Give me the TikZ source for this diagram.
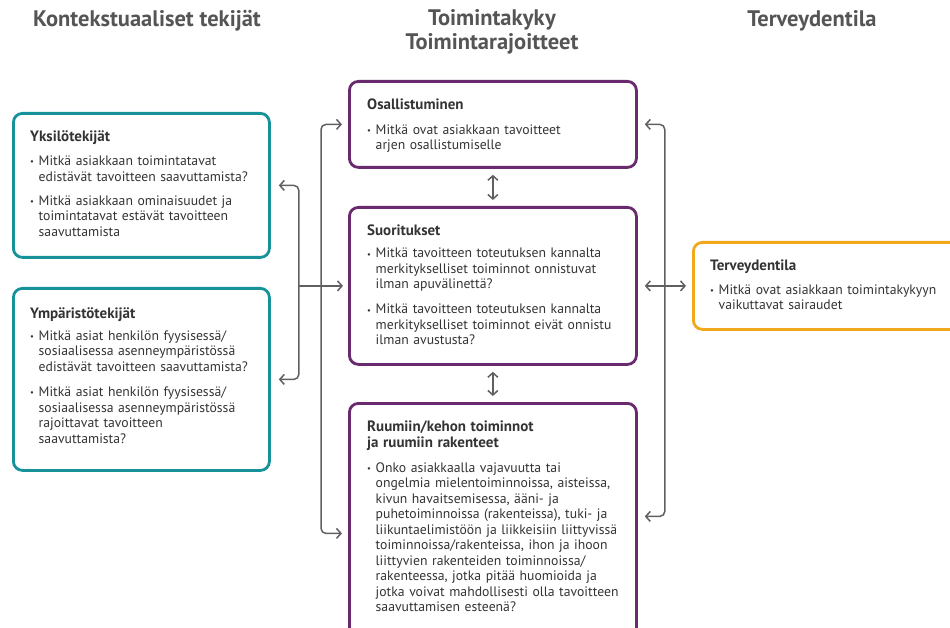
\documentclass[tikz,border=0pt]{standalone}
\usepackage{fontspec}
\setmainfont{PT Sans}
\usetikzlibrary{arrows.meta}
\definecolor{tealc}{HTML}{17919A}
\definecolor{purpc}{HTML}{6A2A6E}
\definecolor{oranc}{HTML}{F2A81D}
\definecolor{titlec}{HTML}{555555}
\definecolor{txtc}{HTML}{333333}
\definecolor{connc}{HTML}{606060}
\newcommand\bul{\makebox[8.5pt][l]{\raisebox{0.8pt}{\fontsize{8.5}{8}\selectfont\textbullet}}}
\newcommand\ind{\hspace*{8.5pt}}
\newcommand\hd[1]{{\bfseries\fontsize{15}{15}\selectfont #1}}
\begin{document}
\begin{tikzpicture}[x=1pt,y=-1pt,
  boxc/.style={draw, line width=2.8pt, rounded corners=9pt, anchor=north west, inner sep=0pt},
  txtnode/.style={anchor=north west, inner sep=0pt, text width=300pt, align=left, text=txtc, font=\fontsize{13.7}{15.5}\selectfont},
  titlen/.style={font=\fontsize{22.5}{24}\selectfont\bfseries, text=titlec, align=center},
  conn/.style={draw=connc, line width=1.5pt, rounded corners=5pt},
  tip/.tip={Straight Barb[length=4.5pt,width=10pt,line width=1.5pt]}
]
\useasboundingbox (0,0) rectangle (950,628);

% titles
\node[titlen] (t1) at (147,21) {Kontekstuaaliset tekijät};
\node[titlen] (t2) at (492,32) {Toimintakyky\\Toimintarajoitteet};
\node[titlen] (t3) at (812,21) {Terveydentila};

% boxes
\node[boxc, draw=tealc, minimum width=256pt, minimum height=144pt] (yks) at (12,112) {};
\node[boxc, draw=tealc, minimum width=256pt, minimum height=182pt] (ymp) at (12,287) {};
\node[boxc, draw=purpc, minimum width=287pt, minimum height=86pt] (osal) at (348,80) {};
\node[boxc, draw=purpc, minimum width=287pt, minimum height=157pt] (suor) at (348,206) {};
\node[boxc, draw=purpc, minimum width=287pt, minimum height=260pt] (ruum) at (348,402) {};
\node[boxc, draw=oranc, minimum width=270pt, minimum height=87pt] (terv) at (692,241) {};

% texts
\node[txtnode] (yksT) at ([xshift=18pt,yshift=-18pt]yks.north west) {%
\hd{Yksilötekijät}\\[9pt]
\bul Mitkä asiakkaan toimintatavat\\
\ind edistävät tavoitteen saavuttamista?\\[8.5pt]
\bul Mitkä asiakkaan ominaisuudet ja\\
\ind toimintatavat estävät tavoitteen\\
\ind saavuttamista};

\node[txtnode] (ympT) at ([xshift=18pt,yshift=-20pt]ymp.north west) {%
\hd{Ympäristötekijät}\\[6.5pt]
\bul Mitkä asiat henkilön fyysisessä/\\
\ind sosiaalisessa asenneympäristössä\\
\ind edistävät tavoitteen saavuttamista?\\[10pt]
\bul Mitkä asiat henkilön fyysisessä/\\
\ind sosiaalisessa asenneympäristössä\\
\ind rajoittavat tavoitteen\\
\ind saavuttamista?};

\node[txtnode] (osalT) at ([xshift=19pt,yshift=-19pt]osal.north west) {%
\hd{Osallistuminen}\\[9pt]
\bul Mitkä ovat asiakkaan tavoitteet\\
\ind arjen osallistumiselle};

\node[txtnode] (suorT) at ([xshift=19pt,yshift=-19pt]suor.north west) {%
\hd{Suoritukset}\\[6.5pt]
\bul Mitkä tavoitteen toteutuksen kannalta\\
\ind merkitykselliset toiminnot onnistuvat\\
\ind ilman apuvälinettä?\\[9.5pt]
\bul Mitkä tavoitteen toteutuksen kannalta\\
\ind merkitykselliset toiminnot eivät onnistu\\
\ind ilman avustusta?};

\node[txtnode] (ruumT) at ([xshift=19pt,yshift=-19pt]ruum.north west) {%
\hd{Ruumiin/kehon toiminnot}\\[0.5pt]
\hd{ja ruumiin rakenteet}\\[9pt]
\bul Onko asiakkaalla vajavuutta tai\\
\ind ongelmia mielentoiminnoissa, aisteissa,\\
\ind kivun havaitsemisessa, ääni- ja\\
\ind puhetoiminnoissa (rakenteissa), tuki- ja\\
\ind liikuntaelimistöön ja liikkeisiin liittyvissä\\
\ind toiminnoissa/rakenteissa, ihon ja ihoon\\
\ind liittyvien rakenteiden toiminnoissa/\\
\ind rakenteessa, jotka pitää huomioida ja\\
\ind jotka voivat mahdollisesti olla tavoitteen\\
\ind saavuttamisen esteenä?};

\node[txtnode] (tervT) at ([xshift=18pt,yshift=-19pt]terv.north west) {%
\hd{Terveydentila}\\[8pt]
\bul Mitkä ovat asiakkaan toimintakykyyn\\
\ind vaikuttavat sairaudet};

% connectors
\draw[conn, {tip}-{tip}] ([xshift=8pt]yks.east) -- ([xshift=28pt]yks.east) -- ([xshift=28pt]ymp.east) -- ([xshift=8pt]ymp.east);
\draw[conn, -{tip}] ([xshift=28pt]yks.east |- suor.west) -- ([xshift=-5pt]suor.west);
\draw[conn, {tip}-{tip}] ([xshift=-6pt]osal.west) -- ([xshift=-27pt]osal.west) -- ([xshift=-27pt]ruum.west) -- ([xshift=-6pt]ruum.west);
\draw[conn, {tip}-{tip}] ([xshift=7pt]osal.east) -- ([xshift=27pt]osal.east) -- ([xshift=27pt,yshift=17pt]ruum.east) -- ([xshift=7pt,yshift=17pt]ruum.east);
\draw[conn, {tip}-{tip}] ([xshift=7pt]suor.east) -- ([xshift=-6pt]terv.west);
\draw[conn, {tip}-{tip}] ([yshift=-6pt]osal.south) -- ([yshift=6pt]suor.north);
\draw[conn, {tip}-{tip}] ([yshift=-6pt]suor.south) -- ([yshift=6pt]ruum.north);
\end{tikzpicture}
\end{document}
